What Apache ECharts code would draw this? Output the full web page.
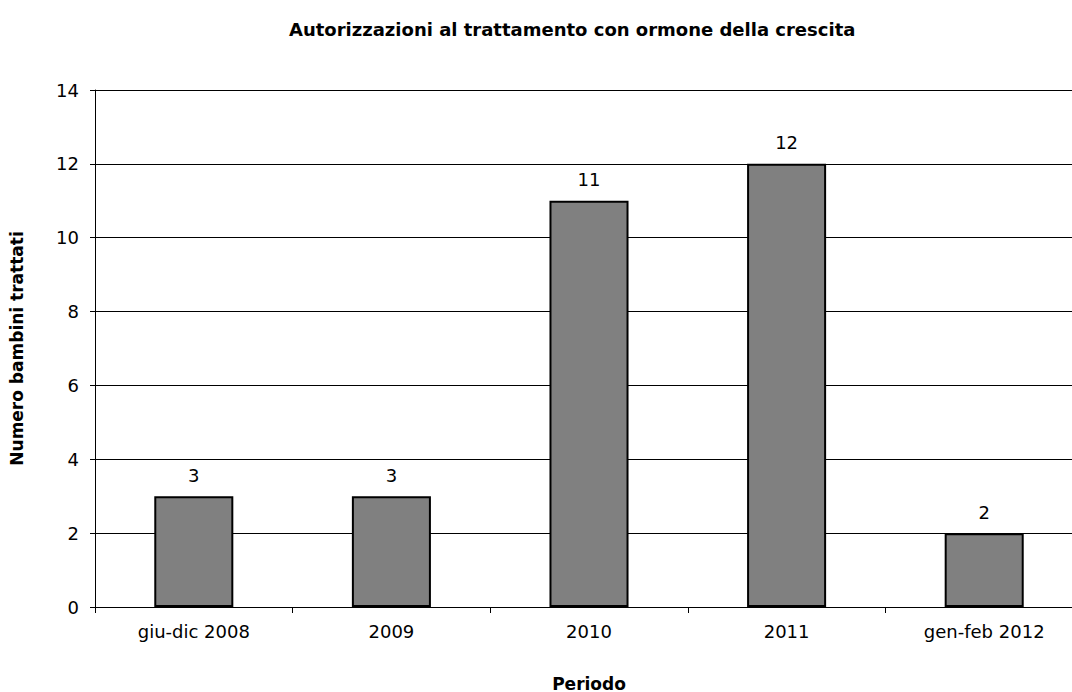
<!DOCTYPE html>
<html>
<head>
<meta charset="utf-8">
<script src="https://cdn.jsdelivr.net/npm/echarts@6/dist/echarts.min.js"></script>
<style>
    html, body { margin: 0; padding: 0; background: #fff; overflow: hidden; }
    #chart { width: 1072px; height: 692px; }
</style>
</head>
<body>
<div id="chart"></div>
<script>
// dati del grafico
var periodi = ['giu-dic 2008', '2009', '2010', '2011', 'gen-feb 2012'];
var bambini = [3, 3, 11, 12, 2];

var chart = echarts.init(document.getElementById('chart'), null, { renderer: 'svg' });

var font = 'DejaVu Sans';

var option = {
    backgroundColor: '#fff',
    animation: false,
    title: {
        text: 'Autorizzazioni al trattamento con ormone della crescita',
        left: 284,
        top: 15,
        textStyle: { fontFamily: font, fontSize: 18, fontWeight: 'bold', color: '#000' }
    },
    // l'area del grafico arriva oltre il bordo destro, come nell'originale
    grid: { left: 95, right: -11, top: 90, bottom: 85, outerBoundsMode: 'none' },
    xAxis: {
        type: 'category',
        data: periodi,
        name: 'Periodo',
        nameLocation: 'middle',
        nameGap: 68,
        nameTextStyle: { fontFamily: font, fontSize: 17, fontWeight: 'bold', color: '#000' },
        axisLine: { lineStyle: { color: '#000', width: 1 } },
        axisTick: { show: true, length: 6, lineStyle: { color: '#000' } },
        axisLabel: { fontFamily: font, fontSize: 18, color: '#000', margin: 15 }
    },
    yAxis: {
        type: 'value',
        min: 0,
        max: 14,
        interval: 2,
        name: 'Numero bambini trattati',
        nameLocation: 'middle',
        nameGap: 70,
        nameTextStyle: { fontFamily: font, fontSize: 17, fontWeight: 'bold', color: '#000' },
        axisLine: { show: true, lineStyle: { color: '#000', width: 1 } },
        axisTick: { show: true, length: 5, lineStyle: { color: '#000' } },
        axisLabel: { fontFamily: font, fontSize: 18, color: '#000', margin: 16 },
        splitLine: { show: true, lineStyle: { color: '#000', width: 1 } }
    },
    series: [{
        type: 'bar',
        data: bambini,
        barWidth: '40%',
        itemStyle: { color: '#808080', borderColor: '#000', borderWidth: 2 },
        label: {
            show: true,
            position: 'top',
            distance: 12,
            fontFamily: font,
            fontSize: 18,
            color: '#000'
        }
    }]
};

chart.setOption(option);
</script>
</body>
</html>
